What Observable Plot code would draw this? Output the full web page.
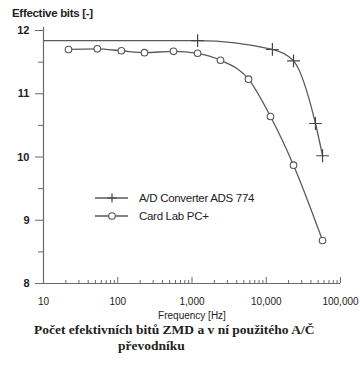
<!DOCTYPE html>
<html><head><meta charset="utf-8">
<script src="https://cdn.jsdelivr.net/npm/d3@7"></script>
<script src="https://cdn.jsdelivr.net/npm/@observablehq/plot@0.6"></script>
<style>
body{margin:0;background:#fff;}
#wrap{position:relative;width:360px;height:367px;font-family:"Liberation Sans",Arial,sans-serif;color:#222;}
#ylabel{position:absolute;left:12px;top:7px;font-size:11.5px;font-weight:bold;letter-spacing:-0.3px;}
#chart{position:absolute;left:0;top:0;}
#legend{position:absolute;left:0;top:0;pointer-events:none;}
#caption{position:absolute;left:0;top:322px;width:360px;font-family:"Liberation Serif","Times New Roman",serif;font-weight:bold;font-size:13.5px;line-height:16px;color:#222;}
</style></head><body>
<div id="wrap">
<div id="chart"></div>
<div id="ylabel">Effective bits [-]</div>
<svg id="legend" width="360" height="322"></svg>
<div id="caption"><div style="padding-left:34px">Počet efektivních bitů ZMD a v ní použitého A/Č</div><div style="padding-left:118px">převodníku</div></div>
</div>
<script>
const seriesNames = ["A/D Converter ADS 774", "Card Lab PC+"];
const adFreq = [10, 1190, 12100, 23300, 46000, 57300];
const adBits = [11.84, 11.84, 11.70, 11.52, 10.53, 10.02];
const clFreq = [21.7, 53, 112, 229, 564, 1190, 2420, 5770, 11400, 23300, 57300];
const clBits = [11.70, 11.71, 11.68, 11.65, 11.67, 11.64, 11.53, 11.23, 10.64, 9.87, 8.68];
const xMajor = [10, 100, 1000, 10000, 100000];
const xMinorMult = [2, 3, 4, 5, 6, 7, 8, 9];
const yMajor = [8, 9, 10, 11, 12];
const yMinor = [8.5, 9.5, 10.5, 11.5];

const ad = adFreq.map((f, i) => ({f, b: adBits[i]}));
const cl = clFreq.map((f, i) => ({f, b: clBits[i]}));
const xMinor = xMajor.slice(0, -1).flatMap(d => xMinorMult.map(m => d * m));

const lineColor = "#5a5a5a";
const axisColor = "#6a6a6a";
const H = 322, mT = 30, mB = 39;
const frameH = H - mT - mB;

const chart = Plot.plot({
  width: 360, height: H,
  marginTop: mT, marginBottom: mB, marginLeft: 43, marginRight: 20,
  style: {fontFamily: "Liberation Sans, Arial, sans-serif", color: "#222", background: "#fff"},
  x: {type: "log", domain: [10, 100000]},
  y: {domain: [8, 12]},
  marks: [
    Plot.ruleX([10], {stroke: axisColor, strokeWidth: 1.2, y1: 8, y2: 12.05}),
    Plot.ruleY([8], {stroke: axisColor, strokeWidth: 1.2}),
    Plot.ruleX(xMinor, {stroke: axisColor, insetTop: frameH - 3}),
    Plot.ruleX(xMajor, {stroke: axisColor, insetTop: frameH - 6}),
    Plot.axisY({ticks: yMajor, tickSize: 8, tickPadding: 6, tickFormat: d3.format("d"), fontSize: 11, fontWeight: "bold", label: null, color: axisColor, fill: "#222"}),
    Plot.axisY({ticks: yMinor, tickSize: 5, tickFormat: () => "", label: null, color: axisColor}),
    Plot.axisX({ticks: xMajor, tickSize: 0, tickPadding: 14, tickFormat: d3.format(","), fontSize: 10, label: "Frequency [Hz]", labelAnchor: "center", labelArrow: "none", labelOffset: 35, fill: "#222"}),
    Plot.line(ad, {x: "f", y: "b", stroke: lineColor, strokeWidth: 1.3, curve: "monotone-x"}),
    Plot.line(cl, {x: "f", y: "b", stroke: lineColor, strokeWidth: 1.3, curve: "monotone-x"}),
    Plot.dot(ad.slice(1), {x: "f", y: "b", symbol: "plus", r: 4.2, stroke: "#444", strokeWidth: 1.2}),
    Plot.dot(cl, {x: "f", y: "b", symbol: "circle", r: 3.3, stroke: "#555", fill: "white", strokeWidth: 1.1})
  ]
});
document.getElementById("chart").appendChild(chart);

// legend
const lg = d3.select("#legend");
const rows = [{name: seriesNames[0], sym: "plus", y: 198}, {name: seriesNames[1], sym: "circle", y: 216}];
rows.forEach(r => {
  lg.append("line").attr("x1", 95).attr("x2", 128).attr("y1", r.y).attr("y2", r.y).attr("stroke", lineColor).attr("stroke-width", 1.3);
  if (r.sym === "plus") {
    lg.append("path").attr("d", `M112,${r.y-4.5}V${r.y+4.5}M107.5,${r.y}H116.5`).attr("stroke", "#444").attr("stroke-width", 1.2);
  } else {
    lg.append("circle").attr("cx", 112).attr("cy", r.y).attr("r", 3.3).attr("fill", "white").attr("stroke", "#555").attr("stroke-width", 1.1);
  }
  lg.append("text").attr("x", 139).attr("y", r.y + 4).attr("font-size", 11.5).attr("fill", "#222").attr("letter-spacing", -0.3)
    .attr("font-family", "Liberation Sans, Arial, sans-serif").text(r.name);
});
</script>
</body></html>
